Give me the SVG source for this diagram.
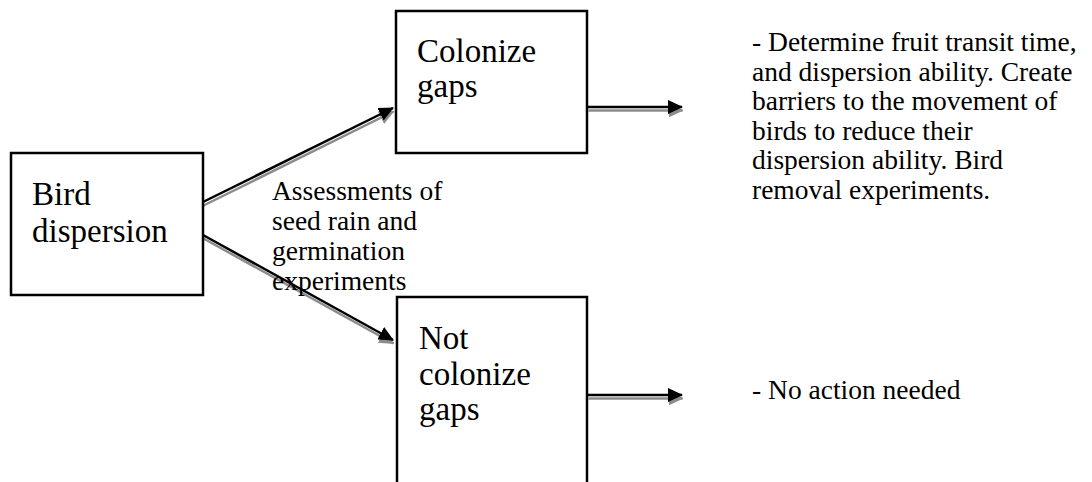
<svg xmlns="http://www.w3.org/2000/svg" width="1092" height="482" viewBox="0 0 1092 482">
<defs>
<style>
.box{fill:#fff;stroke:#000;stroke-width:2.5}
.big{font-family:"Liberation Serif","Times New Roman",serif;font-size:33px;fill:#000}
.txt{font-family:"Liberation Serif","Times New Roman",serif;font-size:27.5px;fill:#000}
.ln{fill:none;stroke:#000;stroke-width:2.5;marker-end:url(#hb)}
.sh{fill:none;stroke:#8c8c8c;stroke-width:2.5;marker-end:url(#hg)}
</style>
<marker id="hb" viewBox="0 0 15 14" refX="14" refY="7" markerWidth="15" markerHeight="14" markerUnits="userSpaceOnUse" orient="auto"><path d="M0,0 L15,7 L0,14 Z" fill="#000"/></marker>
<marker id="hg" viewBox="0 0 15 14" refX="14" refY="7" markerWidth="15" markerHeight="14" markerUnits="userSpaceOnUse" orient="auto"><path d="M0,0 L15,7 L0,14 Z" fill="#8c8c8c"/></marker>
</defs>
<rect width="1092" height="482" fill="#fff"/>
<g id="connectors">
<g transform="translate(0.5,3.5)">
<path class="sh" d="M203,202 L393,108"/>
<path class="sh" d="M203,235 L393,340"/>
<path class="sh" d="M588,107 L682,107"/>
<path class="sh" d="M588,395 L682,395"/>
</g>
<path class="ln" d="M203,202 L393,108"/>
<path class="ln" d="M203,235 L393,340"/>
<path class="ln" d="M588,107 L682,107"/>
<path class="ln" d="M588,395 L682,395"/>
</g>
<g id="bird">
<rect class="box" x="11" y="153" width="192" height="142"/>
<text class="big" x="32" y="205">Bird</text>
<text class="big" x="32" y="242">dispersion</text>
</g>
<g id="colonize">
<rect class="box" x="396" y="11" width="191" height="142"/>
<text class="big" x="417" y="62">Colonize</text>
<text class="big" x="417" y="97">gaps</text>
</g>
<g id="notcolonize">
<rect class="box" x="397" y="297" width="190" height="200"/>
<text class="big" x="419" y="349">Not</text>
<text class="big" x="419" y="385">colonize</text>
<text class="big" x="419" y="420">gaps</text>
</g>
<g id="label">
<text class="txt" x="272" y="200">Assessments of</text>
<text class="txt" x="272" y="230">seed rain and</text>
<text class="txt" x="272" y="260">germination</text>
<text class="txt" x="272" y="290">experiments</text>
</g>
<g id="action1">
<text class="txt" x="752" y="51">- Determine fruit transit time,</text>
<text class="txt" x="752" y="80.5">and dispersion ability. Create</text>
<text class="txt" x="752" y="110">barriers to the movement of</text>
<text class="txt" x="752" y="139.5">birds to reduce their</text>
<text class="txt" x="752" y="169">dispersion ability. Bird</text>
<text class="txt" x="752" y="198.5">removal experiments.</text>
</g>
<g id="action2">
<text class="txt" x="752" y="399">- No action needed</text>
</g>
</svg>
